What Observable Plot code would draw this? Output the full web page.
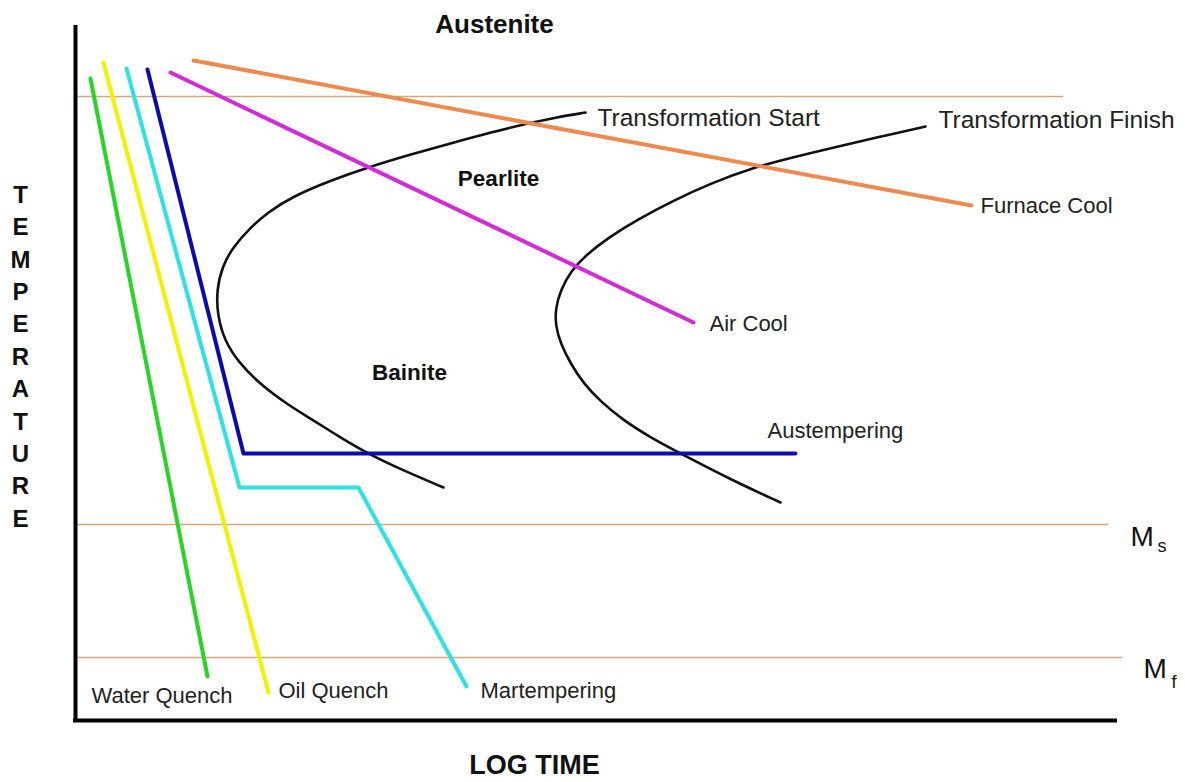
<!DOCTYPE html>
<html>
<head>
<meta charset="utf-8">
<script src="https://cdn.jsdelivr.net/npm/d3@7"></script>
<script src="https://cdn.jsdelivr.net/npm/@observablehq/plot@0.6"></script>
<style>
  html, body { margin: 0; padding: 0; background: #ffffff; }
  #chart svg { display: block; }
</style>
</head>
<body>
<div id="chart"></div>
<script>
// Units: x = log time (arbitrary units), y = temperature (arbitrary units)
const criticalLines = [
  {name: "A1", temp: 624, x1: 0, x2: 988},
  {name: "Ms", temp: 196, x1: 0, x2: 1033},
  {name: "Mf", temp: 63,  x1: 0, x2: 1047}
];

const waterQuench  = [[15, 642], [132, 44]];
const oilQuench    = [[28, 658], [193, 28]];
const martempering = [[51, 652], [164, 233], [283, 233], [391, 34]];
const austempering = [[72, 651], [168, 267], [720, 267]];
const airCool      = [[95, 648], [618, 398]];
const furnaceCool  = [[118, 660], [896, 515]];

const transformationStart = [
  [510, 608], [480, 603], [452, 597], [415, 588], [375, 577], [335, 566], [292, 553],
  [255, 540], [217, 524], [192, 508], [174, 492], [158, 474], [147, 455], [141, 430],
  [142, 405], [149, 380], [163, 358], [186, 335], [212, 316], [238, 300], [265, 283],
  [292, 267], [330, 249], [368, 233]
];
const transformationFinish = [
  [850, 594], [805, 584], [763, 574], [720, 564], [678, 553], [635, 537], [598, 520],
  [562, 501], [533, 483], [511, 466], [495, 449], [485, 430], [480, 412], [480, 395],
  [485, 377], [495, 357], [508, 337], [525, 319], [548, 300], [575, 283], [605, 267],
  [655, 241], [705, 218]
];

const curveLabels = [
  {text: "Transformation Start",  x: 522, y: 602},
  {text: "Transformation Finish", x: 863, y: 600}
];
const regularLabels = [
  {text: "Furnace Cool",          x: 905, y: 515},
  {text: "Air Cool",              x: 634, y: 397},
  {text: "Austempering",          x: 692, y: 290},
  {text: "Water Quench",          x: 16,  y: 25},
  {text: "Oil Quench",            x: 203, y: 30},
  {text: "Martempering",          x: 405, y: 30}
];
const phaseLabels = [
  {text: "Pearlite", x: 423, y: 542},
  {text: "Bainite",  x: 334, y: 348}
];
const martensiteLabels = [
  {main: "M", sub: "s", x: 1055, y: 175, sx: 1082, sy: 169},
  {main: "M", sub: "f", x: 1068, y: 43,  sx: 1096, sy: 33}
];

const xy = {x: d => d[0], y: d => d[1]};
const lineStyle = {strokeWidth: 4, strokeLinecap: "round", strokeLinejoin: "round"};

const chart = Plot.plot({
  width: 1185,
  height: 782,
  marginLeft: 75,
  marginRight: 0,
  marginTop: 0,
  marginBottom: 62,
  x: {domain: [0, 1110], axis: null},
  y: {domain: [0, 720], axis: null},
  style: {fontFamily: "'Liberation Sans', Arial, sans-serif", background: "#ffffff", color: "#222"},
  marks: [
    // critical temperature lines
    Plot.ruleY(criticalLines, {y: "temp", x1: "x1", x2: "x2", stroke: "#d9a67a", strokeWidth: 1.6}),
    // transformation curves
    Plot.line(transformationStart, {...xy, curve: "basis", stroke: "#111", strokeWidth: 2.6}),
    Plot.line(transformationFinish, {...xy, curve: "basis", stroke: "#111", strokeWidth: 2.6}),
    // cooling paths
    Plot.line(furnaceCool,  {...xy, stroke: "#ee8a4e", ...lineStyle}),
    Plot.line(airCool,      {...xy, stroke: "#d42cd4", ...lineStyle}),
    Plot.line(austempering, {...xy, stroke: "#0c0cae", ...lineStyle}),
    Plot.line(martempering, {...xy, stroke: "#2ee2e2", ...lineStyle}),
    Plot.line(oilQuench,    {...xy, stroke: "#f2f200", ...lineStyle}),
    Plot.line(waterQuench,  {...xy, stroke: "#27d427", ...lineStyle}),
    // axes
    Plot.ruleX([0], {y1: -2, y2: 695, stroke: "#000", strokeWidth: 4}),
    Plot.ruleY([0], {x1: -2, x2: 1042, stroke: "#000", strokeWidth: 4}),
    // labels
    Plot.text(curveLabels, {x: "x", y: "y", text: "text", textAnchor: "start", fontSize: 24.5, fill: "#222"}),
    Plot.text(regularLabels, {x: "x", y: "y", text: "text", textAnchor: "start", fontSize: 22, fill: "#222"}),
    Plot.text(phaseLabels, {x: "x", y: "y", text: "text", fontSize: 22.5, fontWeight: "bold", fill: "#111"}),
    Plot.text(["Austenite"], {x: 419, y: 696, text: d => d, fontSize: 26, fontWeight: "bold", fill: "#111"}),
    Plot.text(["LOG TIME"], {x: 459, y: -45, text: d => d, fontSize: 27, fontWeight: "bold", fill: "#111"}),
    Plot.text(["TEMPERATURE"], {x: -55, y: 366, text: d => d.split("").join("\n"), fontSize: 24, lineHeight: 1.35, fontWeight: "bold", fill: "#111"}),
    Plot.text(martensiteLabels, {x: "x", y: "y", text: "main", textAnchor: "start", lineAnchor: "bottom", fontSize: 28, fill: "#111"}),
    Plot.text(martensiteLabels, {x: "sx", y: "sy", text: "sub", textAnchor: "start", lineAnchor: "bottom", fontSize: 18, fill: "#111"})
  ]
});
document.getElementById("chart").append(chart);
</script>
</body>
</html>
